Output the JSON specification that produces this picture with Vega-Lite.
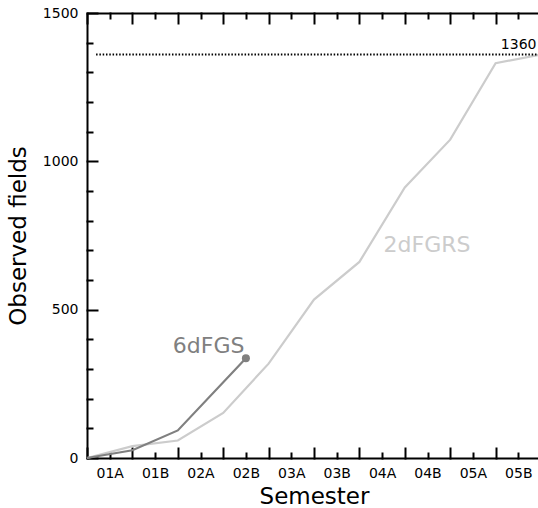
{
  "$schema": "https://vega.github.io/schema/vega-lite/v6.json",
  "width": 454,
  "height": 445,
  "autosize": "none",
  "padding": {"left": 87, "top": 13, "right": 0, "bottom": 50},
  "background": "white",
  "config": {
    "view": {"stroke": null},
    "font": "DejaVu Sans",
    "axis": {
      "grid": false,
      "domainColor": "black",
      "domainWidth": 2,
      "tickColor": "black",
      "tickWidth": 2,
      "tickCap": "square",
      "labelColor": "black",
      "labelFont": "DejaVu Sans",
      "labelFontSize": 14,
      "titleColor": "black",
      "titleFont": "DejaVu Sans",
      "titleFontSize": 23,
      "titleFontWeight": "normal"
    }
  },
  "datasets": {
    "surveys": [
      {"survey": "2dFGRS", "semester": 0, "fields": 0},
      {"survey": "2dFGRS", "semester": 1, "fields": 40},
      {"survey": "2dFGRS", "semester": 2, "fields": 59},
      {"survey": "2dFGRS", "semester": 3, "fields": 152},
      {"survey": "2dFGRS", "semester": 4, "fields": 318},
      {"survey": "2dFGRS", "semester": 5, "fields": 534},
      {"survey": "2dFGRS", "semester": 6, "fields": 661},
      {"survey": "2dFGRS", "semester": 7, "fields": 912},
      {"survey": "2dFGRS", "semester": 8, "fields": 1073},
      {"survey": "2dFGRS", "semester": 9, "fields": 1331},
      {"survey": "2dFGRS", "semester": 10, "fields": 1360},
      {"survey": "6dFGS", "semester": 0, "fields": 0},
      {"survey": "6dFGS", "semester": 1, "fields": 26},
      {"survey": "6dFGS", "semester": 2, "fields": 93},
      {"survey": "6dFGS", "semester": 3.5, "fields": 336}
    ],
    "labels": [
      {"label": "2dFGRS", "semester": 7.49, "fields": 693},
      {"label": "6dFGS", "semester": 2.68, "fields": 355},
      {"label": "1360", "semester": 9.9, "fields": 1379}
    ],
    "target": [{"fields": 1360}]
  },
  "layer": [
    {
      "data": {"name": "surveys"},
      "transform": [{"filter": "datum.survey === '2dFGRS'"}],
      "mark": {"type": "line", "color": "#cccccc", "strokeWidth": 2.2},
      "encoding": {
        "x": {
          "field": "semester", "type": "quantitative",
          "scale": {"domain": [0, 10], "nice": false},
          "axis": {"orient": "bottom", "values": [0,1,2,3,4,5,6,7,8,9,10], "tickSize": -10, "labels": false, "title": "Semester", "titlePadding": 26}
        },
        "y": {
          "field": "fields", "type": "quantitative",
          "scale": {"domain": [0, 1500], "nice": false},
          "axis": {"orient": "left", "values": [0, 500, 1000, 1500], "format": "d", "tickSize": -10, "labelPadding": 19, "title": "Observed fields", "titlePadding": 12}
        }
      }
    },
    {
      "data": {"name": "surveys"},
      "transform": [{"filter": "datum.survey === '6dFGS'"}],
      "mark": {"type": "line", "color": "#808080", "strokeWidth": 2.2},
      "encoding": {
        "x": {
          "field": "semester", "type": "quantitative",
          "scale": {"domain": [0, 10], "nice": false},
          "axis": {"orient": "bottom", "values": [0.5,1.5,2.5,3.5,4.5,5.5,6.5,7.5,8.5,9.5], "tickSize": -5, "domain": false, "labelPadding": 13, "labelExpr": "['01A','01B','02A','02B','03A','03B','04A','04B','05A','05B'][floor(datum.value)]", "title": null}
        },
        "y": {
          "field": "fields", "type": "quantitative",
          "scale": {"domain": [0, 1500], "nice": false},
          "axis": {"orient": "left", "values": [100,200,300,400,600,700,800,900,1100,1200,1300,1400], "tickSize": -5, "domain": false, "labels": false, "title": null}
        }
      }
    },
    {
      "data": {"name": "surveys"},
      "transform": [{"filter": "datum.survey === '6dFGS' && datum.semester === 3.5"}],
      "mark": {"type": "point", "filled": true, "color": "#808080", "size": 64, "opacity": 1},
      "encoding": {
        "x": {
          "field": "semester", "type": "quantitative",
          "scale": {"domain": [0, 10], "nice": false},
          "axis": {"orient": "top", "values": [0,1,2,3,4,5,6,7,8,9,10], "tickSize": -10, "labels": false, "title": null}
        },
        "y": {"field": "fields", "type": "quantitative", "scale": {"domain": [0, 1500], "nice": false}, "axis": null}
      }
    },
    {
      "data": {"name": "target"},
      "mark": {"type": "rule", "color": "black", "strokeWidth": 2, "strokeDash": [1.5, 1.8]},
      "encoding": {
        "x": {"datum": 0.2, "type": "quantitative", "scale": {"domain": [0, 10], "nice": false},
          "axis": {"orient": "top", "values": [0.5,1.5,2.5,3.5,4.5,5.5,6.5,7.5,8.5,9.5], "tickSize": -5, "domain": false, "labels": false, "title": null}},
        "x2": {"datum": 10},
        "y": {"field": "fields", "type": "quantitative", "scale": {"domain": [0, 1500], "nice": false}, "axis": null}
      }
    },
    {
      "data": {"name": "labels"},
      "transform": [{"filter": "datum.label === '2dFGRS'"}],
      "mark": {"type": "text", "color": "#cccccc", "fontSize": 22, "font": "DejaVu Sans", "align": "center", "baseline": "alphabetic"},
      "encoding": {
        "x": {"field": "semester", "type": "quantitative", "axis": null},
        "y": {"field": "fields", "type": "quantitative", "axis": null},
        "text": {"field": "label"}
      }
    },
    {
      "data": {"name": "labels"},
      "transform": [{"filter": "datum.label === '6dFGS'"}],
      "mark": {"type": "text", "color": "#808080", "fontSize": 22, "font": "DejaVu Sans", "align": "center", "baseline": "alphabetic"},
      "encoding": {
        "x": {"field": "semester", "type": "quantitative", "axis": null},
        "y": {"field": "fields", "type": "quantitative", "axis": null},
        "text": {"field": "label"}
      }
    },
    {
      "data": {"name": "labels"},
      "transform": [{"filter": "datum.label === '1360'"}],
      "mark": {"type": "text", "color": "black", "fontSize": 14, "font": "DejaVu Sans", "align": "right", "baseline": "alphabetic"},
      "encoding": {
        "x": {"field": "semester", "type": "quantitative", "axis": null},
        "y": {"field": "fields", "type": "quantitative", "axis": null},
        "text": {"field": "label"}
      }
    }
  ],
  "resolve": {"axis": {"x": "independent", "y": "independent"}}
}
